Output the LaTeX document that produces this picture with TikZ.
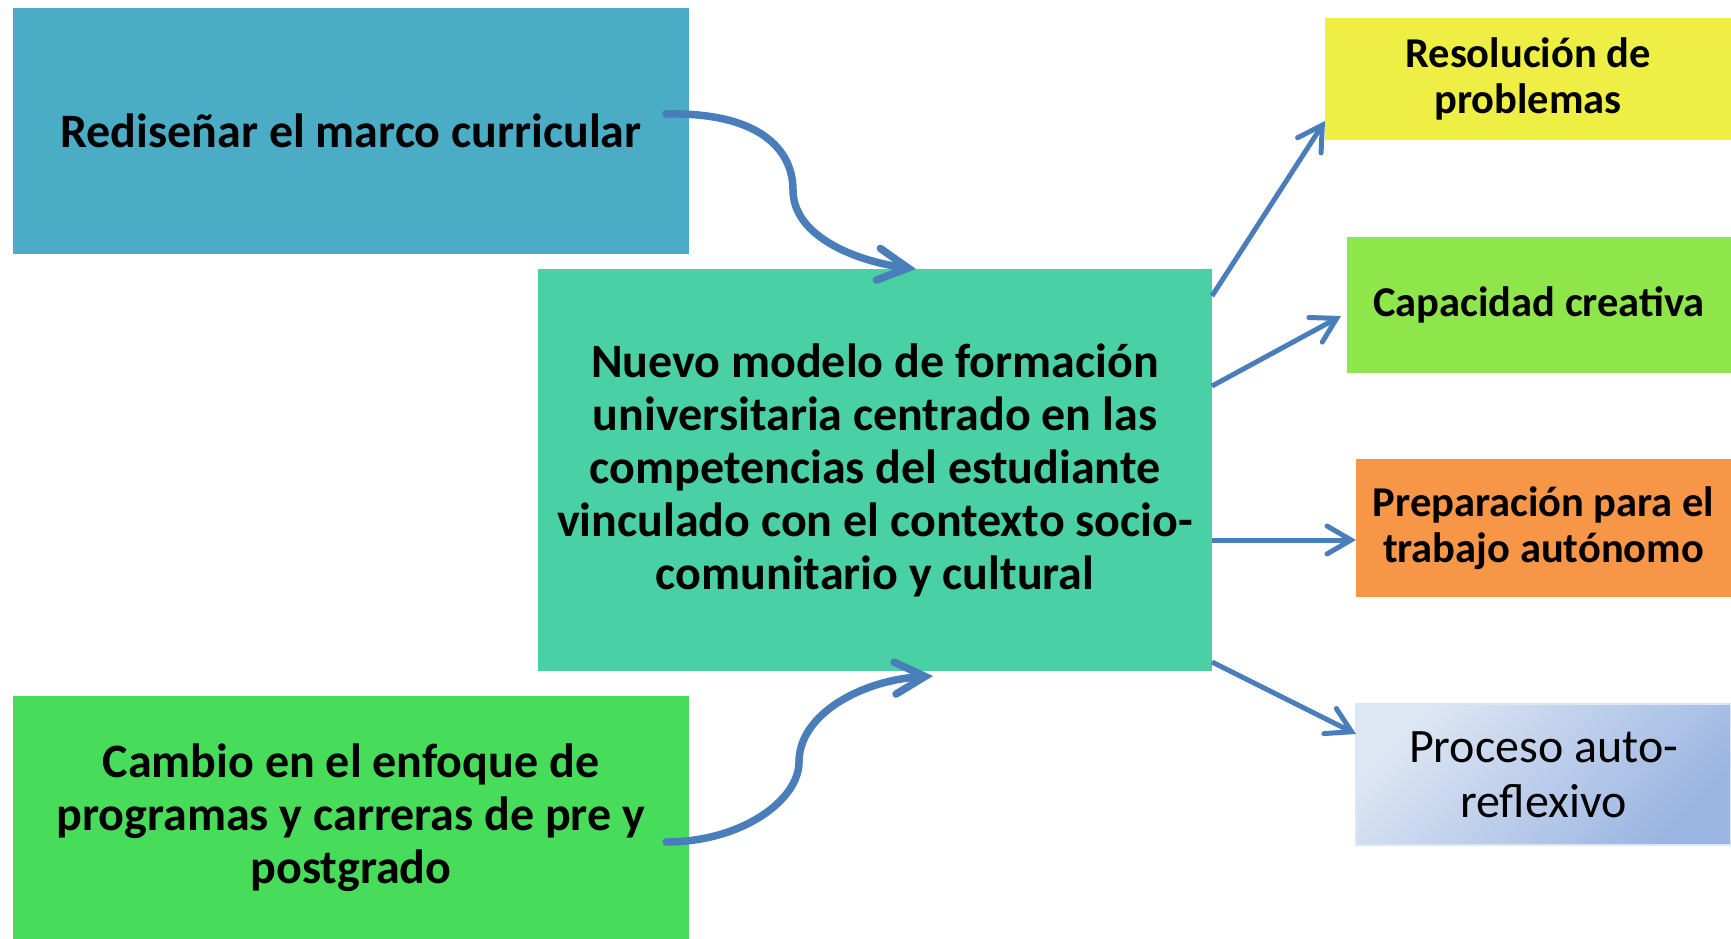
\documentclass[tikz,border=0pt]{standalone}
\usepackage{fontspec}
\setmainfont{Carlito}
\usetikzlibrary{arrows.meta}

\definecolor{MarcoBlue}{HTML}{4BACC6}
\definecolor{ModeloGreen}{HTML}{4AD0A5}
\definecolor{CambioGreen}{HTML}{48DC5B}
\definecolor{ResolYellow}{HTML}{EEEE45}
\definecolor{CapGreen}{HTML}{8FE64B}
\definecolor{PrepOrange}{HTML}{F79646}
\definecolor{ProcLight}{HTML}{DDE6F3}
\definecolor{ProcDark}{HTML}{9BB5E2}
\definecolor{ArrowBlue}{HTML}{4A7EBB}

\begin{document}
\begin{tikzpicture}[x=1pt,y=-1pt]
	  \useasboundingbox (0,0) rectangle (1731,939);
	  \tikzset{BoxStyle/.style = {rectangle,
	  								  align          = center,
									  inner sep      = 0pt,
	                                 outer sep      = 0pt,
	                                 font           = \bfseries\fontsize{48}{53}\selectfont}}

	  \tikzset{SideStyle/.style = {BoxStyle,
	                                 font           = \bfseries\fontsize{42.5}{46}\selectfont}}

	  \tikzset{CurveStyle/.style = {line width = 7.5pt, ArrowBlue, line cap = round,
	                                 -{Straight Barb[length=30pt,width=32pt,line cap=round]}}}

	  \tikzset{ArrowStyle/.style = {line width = 5pt, ArrowBlue,
	                                 -{Straight Barb[length=24pt,width=28pt,line cap=round]}}}

	     \node[BoxStyle, fill=MarcoBlue, minimum width=676pt, minimum height=246pt] (Marco) at (351,131) {Rediseñar el marco curricular};
	     \node[BoxStyle, fill=CambioGreen, minimum width=676pt, minimum height=243pt] (Cambio) at (351,817.5) {Cambio en el enfoque de\\programas y carreras de pre y\\postgrado};
	     \node[BoxStyle, fill=ModeloGreen, minimum width=674pt, minimum height=402pt] (Modelo) at (875,470) {Nuevo modelo de formación\\universitaria centrado en las\\competencias del estudiante\\vinculado con el contexto socio-\\comunitario y cultural};

	     \node[SideStyle, fill=ResolYellow, minimum width=406pt, minimum height=122pt] (Resol) at (1528,79) {Resolución de\\problemas};
	     \node[SideStyle, fill=CapGreen, minimum width=384pt, minimum height=136pt] (Cap) at (1539,305) {Capacidad creativa};
	     \node[SideStyle, fill=PrepOrange, minimum width=375pt, minimum height=138pt] (Prep) at (1543.5,528) {Preparación para el\\trabajo autónomo};
	     \node[BoxStyle, font=\fontsize{48}{55}\selectfont, draw=ProcLight, line width=2pt,
	           top color=ProcLight, bottom color=ProcDark, shading angle=45,
	           minimum width=375pt, minimum height=141pt] (Proc) at (1543.5,774.5) {Proceso auto-\\reflexivo};

	     \coordinate (MarcoOut) at (666,114);
	     \coordinate (CambioOut) at (666,842);

	     \draw[CurveStyle] (MarcoOut) .. controls (760,112) and (793,150) .. (793,190)
	                       .. controls (793,238) and (860,262) .. ([xshift=41pt]Modelo.north);
	     \draw[CurveStyle] (CambioOut) .. controls (742,842) and (799,800) .. (799,762)
	                       .. controls (799,714) and (862,680) .. ([xshift=58pt,yshift=-5pt]Modelo.south);

	     \draw[ArrowStyle] ([yshift=174pt]Modelo.east) to ([yshift=19pt]Resol.south west);
	     \draw[ArrowStyle] ([yshift=84pt]Modelo.east) to ([xshift=-6pt,yshift=-11pt]Cap.west);
	     \draw[ArrowStyle] ([yshift=-70pt]Modelo.east) to ([yshift=-12pt]Prep.west);
	     \draw[ArrowStyle] ([yshift=-192pt]Modelo.east) to ([yshift=-30pt]Proc.north west);

	  \end{tikzpicture}
\end{document}
